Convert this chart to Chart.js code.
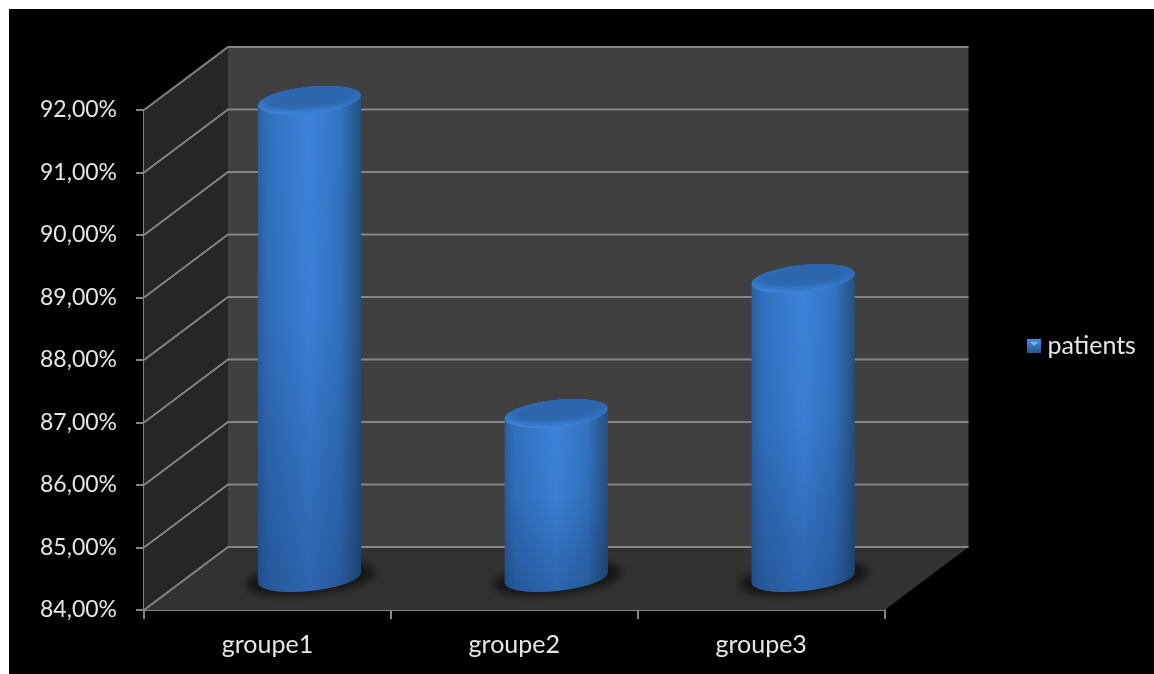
<!DOCTYPE html>
<html>
<head>
<meta charset="utf-8">
<title>patients</title>
<script src="https://cdn.jsdelivr.net/npm/chart.js@4"></script>
<style>
  html, body { margin: 0; padding: 0; background: #fff; overflow: hidden; }
  #wrap { position: absolute; left: 0; top: 0; width: 1154px; height: 674px; }
</style>
</head>
<body>
<div id="wrap"><canvas id="patientsGraph" width="1154" height="674"></canvas></div>
<script>
const seriesName = "patients";
const groups = ["groupe1", "groupe2", "groupe3"];
const patients = [91.65, 86.64, 88.8];
const axisMin = 84;
const axisMax = 92;

// how far the box recedes behind the front plane
const depthX = 84;
const depthY = 63;
const lineGrey = "#858585";
const textColor = "#e6e6e6";
const fontName = "Lato, 'Open Sans', sans-serif";
const swatchSize = 14;
const legendLeft = 1027;
const legendMiddle = 346;
const xAxisHeight = 64;

function drawCylinder(ctx, bar) {
    const cx = bar.x + depthX / 2;
    const topY = bar.y - depthY / 2;
    const bottomY = bar.base - depthY / 2;
    const halfW = bar.width / 2;
    const tilt = -6 * Math.PI / 180;
    const a = halfW;
    const b = 13.5;
    // angle where the tilted ellipse reaches its widest x
    const t0 = Math.atan(-(b / a) * Math.tan(tilt));

    // soft shadow on the floor
    ctx.save();
    ctx.filter = "blur(5px)";
    ctx.fillStyle = "rgba(14,14,14,0.85)";
    ctx.beginPath();
    ctx.ellipse(cx + 1, bottomY + 1, a + 13, b + 2, tilt, 0, Math.PI * 2);
    ctx.fill();
    ctx.restore();

    // body
    const side = ctx.createLinearGradient(cx - halfW, 0, cx + halfW, 0);
    side.addColorStop(0, "#2a5f9f");
    side.addColorStop(0.1, "#3170bd");
    side.addColorStop(0.5, "#3d83dc");
    side.addColorStop(0.8, "#3373c0");
    side.addColorStop(0.95, "#28598f");
    side.addColorStop(1, "#234f80");
    ctx.beginPath();
    ctx.ellipse(cx, bottomY, a, b, tilt, t0, t0 + Math.PI);
    ctx.ellipse(cx, topY, a, b, tilt, t0 + Math.PI, t0 + Math.PI * 2);
    ctx.closePath();
    ctx.fillStyle = side;
    ctx.fill();

    // darker towards the floor
    const fade = ctx.createLinearGradient(0, topY, 0, bottomY + b);
    fade.addColorStop(0, "rgba(10,30,70,0)");
    fade.addColorStop(0.45, "rgba(10,30,70,0.05)");
    fade.addColorStop(1, "rgba(10,30,70,0.3)");
    ctx.fillStyle = fade;
    ctx.fill();

    // cap: rim lit from below with a blurred darker centre
    const rim = ctx.createLinearGradient(0, topY - b, 0, topY + b);
    rim.addColorStop(0, "#2f69b1");
    rim.addColorStop(0.6, "#3474c2");
    rim.addColorStop(1, "#3f86dc");
    ctx.save();
    ctx.beginPath();
    ctx.ellipse(cx, topY, a, b, tilt, 0, Math.PI * 2);
    ctx.fillStyle = rim;
    ctx.fill();
    ctx.clip();
    ctx.filter = "blur(3px)";
    ctx.fillStyle = "#2c66ad";
    ctx.beginPath();
    ctx.ellipse(cx + 1, topY - 2, a - 6, b - 3, tilt, 0, Math.PI * 2);
    ctx.fill();
    ctx.restore();
}

const box3d = {
    id: "box3d",
    afterLayout(chart) {
        // the legend sits level with the middle of the panel, not of the plot
        const legend = chart.legend;
        const dy = legendMiddle - (legend.top + legend.bottom) / 2;
        const dx = legendLeft - 6 - legend.left;
        legend.top += dy;
        legend.bottom += dy;
        legend.left += dx;
        legend.right += dx;
    },
    beforeDatasetsDraw(chart) {
        const { ctx, chartArea: area, scales: { y } } = chart;
        const { left, right, top, bottom } = area;
        ctx.save();

        // side wall
        ctx.fillStyle = "#262626";
        ctx.beginPath();
        ctx.moveTo(left, top);
        ctx.lineTo(left + depthX, top - depthY);
        ctx.lineTo(left + depthX, bottom - depthY);
        ctx.lineTo(left, bottom);
        ctx.closePath();
        ctx.fill();

        // back wall
        ctx.fillStyle = "#404040";
        ctx.fillRect(left + depthX, top - depthY, right - left, bottom - top);

        // floor
        ctx.fillStyle = "#323232";
        ctx.beginPath();
        ctx.moveTo(left, bottom);
        ctx.lineTo(left + depthX, bottom - depthY);
        ctx.lineTo(right + depthX, bottom - depthY);
        ctx.lineTo(right, bottom);
        ctx.closePath();
        ctx.fill();

        // gridlines wrap from the axis across the side wall and along the back
        ctx.strokeStyle = lineGrey;
        ctx.lineWidth = 2;
        y.ticks.forEach(t => {
            const py = y.getPixelForValue(t.value);
            ctx.beginPath();
            ctx.moveTo(left, py);
            ctx.lineTo(left + depthX, py - depthY);
            ctx.lineTo(right + depthX, py - depthY);
            ctx.stroke();
        });
        ctx.restore();
    },
    beforeDatasetDraw(chart, args) {
        const ctx = chart.ctx;
        ctx.save();
        args.meta.data.forEach(bar => drawCylinder(ctx, bar));
        ctx.restore();
        return false;
    },
    afterDraw(chart) {
        // legend swatch gets a small bevel
        const ctx = chart.ctx;
        const x = legendLeft;
        const y = legendMiddle - swatchSize / 2;
        const g = ctx.createLinearGradient(0, y, 0, y + swatchSize);
        g.addColorStop(0, "#4a90e6");
        g.addColorStop(1, "#23548f");
        ctx.save();
        ctx.fillStyle = g;
        ctx.fillRect(x, y, swatchSize, swatchSize);
        ctx.fillStyle = "#7fb4ee";
        ctx.beginPath();
        ctx.moveTo(x + 3, y + 3);
        ctx.lineTo(x + 11, y + 3);
        ctx.lineTo(x + 7, y + 7);
        ctx.closePath();
        ctx.fill();
        ctx.restore();
    }
};

// black panel behind the chart, leaving the white strip on the left and top
const panel = {
    id: "panel",
    beforeDraw(chart) {
        const ctx = chart.ctx;
        ctx.save();
        ctx.fillStyle = "#000";
        ctx.fillRect(9, 9, chart.width - 9, chart.height - 9);
        ctx.restore();
    }
};

new Chart(document.getElementById("patientsGraph").getContext("2d"), {
    type: "bar",
    data: {
        labels: groups,
        datasets: [{
            label: seriesName,
            data: patients,
            base: axisMin,
            backgroundColor: "#3a7bd5",
            barPercentage: 0.42,
            categoryPercentage: 1
        }]
    },
    plugins: [panel, box3d],
    options: {
        responsive: false,
        animation: false,
        layout: { padding: { left: 21, right: 144.5, top: 110, bottom: 0 } },
        scales: {
            x: {
                afterFit: scale => { scale.height = xAxisHeight; },
                grid: { drawOnChartArea: false, drawTicks: true, tickLength: 9, color: lineGrey, lineWidth: 2 },
                border: { display: true, color: lineGrey, width: 2 },
                ticks: { color: textColor, font: { family: fontName, size: 25 }, padding: 11, maxRotation: 0 }
            },
            y: {
                min: axisMin,
                max: axisMax,
                grid: { drawOnChartArea: false, drawTicks: true, tickLength: 8, color: lineGrey, lineWidth: 2 },
                border: { display: true, color: lineGrey, width: 2 },
                ticks: {
                    stepSize: 1,
                    color: textColor,
                    font: { family: fontName, size: 23 },
                    padding: 19,
                    callback: v => v.toFixed(2).replace(".", ",") + "%"
                }
            }
        },
        plugins: {
            tooltip: { enabled: false },
            title: { display: false },
            legend: {
                display: true,
                position: "right",
                labels: {
                    color: textColor,
                    font: { family: fontName, size: 25 },
                    boxWidth: 8,
                    boxHeight: 8,
                    padding: 6
                }
            }
        }
    }
});
</script>
</body>
</html>
